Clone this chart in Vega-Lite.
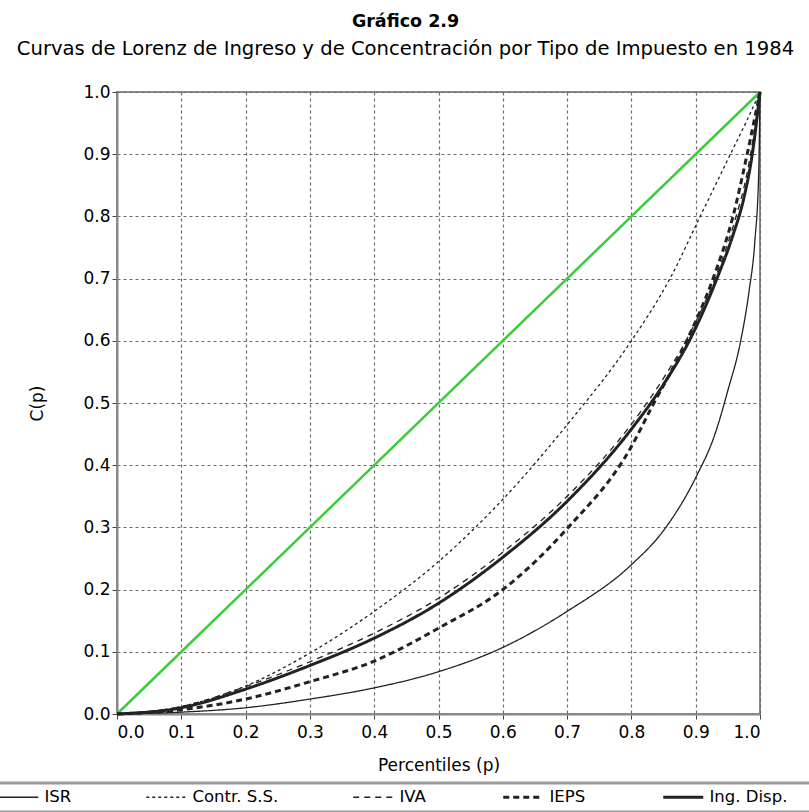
{
  "$schema": "https://vega.github.io/schema/vega-lite/v6.json",
  "width": 643,
  "height": 622,
  "autosize": {"type": "none"},
  "padding": {"left": 117, "top": 92, "right": 49, "bottom": 98},
  "background": "white",
  "title": {
    "text": "Gráfico 2.9",
    "subtitle": "Curvas de Lorenz de Ingreso y de Concentración por Tipo de Impuesto en 1984",
    "anchor": "middle",
    "dx": -33,
    "offset": 24,
    "font": "DejaVu Sans",
    "fontSize": 17.5,
    "fontWeight": "bold",
    "color": "black",
    "subtitleFont": "DejaVu Sans",
    "subtitleFontSize": 19.6,
    "subtitleColor": "black",
    "subtitlePadding": 10
  },
  "config": {
    "view": {"stroke": "#8a8a8a", "strokeWidth": 2},
    "axis": {
      "labelFont": "DejaVu Sans",
      "labelFontSize": 17,
      "labelColor": "black",
      "titleFont": "DejaVu Sans",
      "titleFontSize": 17,
      "titleFontWeight": "normal",
      "titleColor": "black",
      "gridColor": "#6a6a6a",
      "gridDash": [3, 3],
      "gridWidth": 1.2,
      "gridOpacity": 1,
      "domainColor": "#8a8a8a",
      "domainWidth": 2,
      "tickColor": "#444",
      "tickSize": 5
    },
    "legend": {
      "symbolStrokeColor": "#222",
      "labelFont": "DejaVu Sans",
      "labelFontSize": 16.5,
      "labelColor": "black"
    }
  },
  "datasets": {
    "curves": [
      {"serie": "ISR", "p": 0, "c": 0},
      {"serie": "ISR", "p": 0.1, "c": 0.003},
      {"serie": "ISR", "p": 0.2, "c": 0.01},
      {"serie": "ISR", "p": 0.3, "c": 0.024},
      {"serie": "ISR", "p": 0.4, "c": 0.042},
      {"serie": "ISR", "p": 0.5, "c": 0.068},
      {"serie": "ISR", "p": 0.6, "c": 0.107},
      {"serie": "ISR", "p": 0.7, "c": 0.165},
      {"serie": "ISR", "p": 0.8, "c": 0.24},
      {"serie": "ISR", "p": 0.85, "c": 0.295},
      {"serie": "ISR", "p": 0.9, "c": 0.38},
      {"serie": "ISR", "p": 0.93, "c": 0.45},
      {"serie": "ISR", "p": 0.95, "c": 0.52},
      {"serie": "ISR", "p": 0.97, "c": 0.6},
      {"serie": "ISR", "p": 0.983, "c": 0.68},
      {"serie": "ISR", "p": 0.992, "c": 0.76},
      {"serie": "ISR", "p": 0.998, "c": 0.87},
      {"serie": "ISR", "p": 1, "c": 1},
      {"serie": "Contr. S.S.", "p": 0, "c": 0},
      {"serie": "Contr. S.S.", "p": 0.1, "c": 0.012},
      {"serie": "Contr. S.S.", "p": 0.2, "c": 0.045},
      {"serie": "Contr. S.S.", "p": 0.3, "c": 0.098},
      {"serie": "Contr. S.S.", "p": 0.4, "c": 0.165},
      {"serie": "Contr. S.S.", "p": 0.5, "c": 0.245},
      {"serie": "Contr. S.S.", "p": 0.6, "c": 0.345},
      {"serie": "Contr. S.S.", "p": 0.7, "c": 0.465},
      {"serie": "Contr. S.S.", "p": 0.8, "c": 0.6},
      {"serie": "Contr. S.S.", "p": 0.86, "c": 0.7},
      {"serie": "Contr. S.S.", "p": 0.907, "c": 0.8},
      {"serie": "Contr. S.S.", "p": 0.954, "c": 0.9},
      {"serie": "Contr. S.S.", "p": 0.98, "c": 0.955},
      {"serie": "Contr. S.S.", "p": 1, "c": 1},
      {"serie": "IVA", "p": 0, "c": 0},
      {"serie": "IVA", "p": 0.1, "c": 0.012},
      {"serie": "IVA", "p": 0.2, "c": 0.044},
      {"serie": "IVA", "p": 0.3, "c": 0.084},
      {"serie": "IVA", "p": 0.4, "c": 0.13},
      {"serie": "IVA", "p": 0.5, "c": 0.186},
      {"serie": "IVA", "p": 0.6, "c": 0.26},
      {"serie": "IVA", "p": 0.7, "c": 0.35},
      {"serie": "IVA", "p": 0.8, "c": 0.466},
      {"serie": "IVA", "p": 0.85, "c": 0.54},
      {"serie": "IVA", "p": 0.89, "c": 0.61},
      {"serie": "IVA", "p": 0.93, "c": 0.7},
      {"serie": "IVA", "p": 0.96, "c": 0.79},
      {"serie": "IVA", "p": 0.98, "c": 0.87},
      {"serie": "IVA", "p": 1, "c": 1},
      {"serie": "IEPS", "p": 0, "c": 0},
      {"serie": "IEPS", "p": 0.1, "c": 0.007},
      {"serie": "IEPS", "p": 0.2, "c": 0.024},
      {"serie": "IEPS", "p": 0.3, "c": 0.052},
      {"serie": "IEPS", "p": 0.4, "c": 0.085},
      {"serie": "IEPS", "p": 0.5, "c": 0.138},
      {"serie": "IEPS", "p": 0.6, "c": 0.2},
      {"serie": "IEPS", "p": 0.7, "c": 0.298},
      {"serie": "IEPS", "p": 0.8, "c": 0.43},
      {"serie": "IEPS", "p": 0.83, "c": 0.49},
      {"serie": "IEPS", "p": 0.886, "c": 0.6},
      {"serie": "IEPS", "p": 0.927, "c": 0.7},
      {"serie": "IEPS", "p": 0.958, "c": 0.8},
      {"serie": "IEPS", "p": 0.98, "c": 0.9},
      {"serie": "IEPS", "p": 1, "c": 1},
      {"serie": "Ing. Disp.", "p": 0, "c": 0},
      {"serie": "Ing. Disp.", "p": 0.1, "c": 0.01},
      {"serie": "Ing. Disp.", "p": 0.2, "c": 0.04},
      {"serie": "Ing. Disp.", "p": 0.3, "c": 0.078},
      {"serie": "Ing. Disp.", "p": 0.4, "c": 0.122},
      {"serie": "Ing. Disp.", "p": 0.5, "c": 0.178},
      {"serie": "Ing. Disp.", "p": 0.6, "c": 0.252},
      {"serie": "Ing. Disp.", "p": 0.7, "c": 0.342},
      {"serie": "Ing. Disp.", "p": 0.8, "c": 0.458},
      {"serie": "Ing. Disp.", "p": 0.85, "c": 0.53},
      {"serie": "Ing. Disp.", "p": 0.89, "c": 0.6},
      {"serie": "Ing. Disp.", "p": 0.933, "c": 0.7},
      {"serie": "Ing. Disp.", "p": 0.958, "c": 0.77},
      {"serie": "Ing. Disp.", "p": 0.975, "c": 0.83},
      {"serie": "Ing. Disp.", "p": 0.988, "c": 0.9},
      {"serie": "Ing. Disp.", "p": 1, "c": 1}
    ],
    "diagonal": [
      {"p": 0, "c": 0},
      {"p": 1, "c": 1}
    ]
  },
  "layer": [
    {
      "data": {"name": "diagonal"},
      "mark": {"type": "line", "color": "#3ccc3c", "strokeWidth": 2.5},
      "encoding": {
        "x": {
          "field": "p", "type": "quantitative",
          "scale": {"domain": [0, 1], "nice": false},
          "axis": {
            "title": "Percentiles (p)",
            "values": [0, 0.1, 0.2, 0.3, 0.4, 0.5, 0.6, 0.7, 0.8, 0.9, 1],
            "format": ".1f",
            "labelPadding": 5,
            "titlePadding": 17
          }
        },
        "y": {
          "field": "c", "type": "quantitative",
          "scale": {"domain": [0, 1], "nice": false},
          "axis": {
            "title": "C(p)",
            "values": [0, 0.1, 0.2, 0.3, 0.4, 0.5, 0.6, 0.7, 0.8, 0.9, 1],
            "format": ".1f",
            "labelPadding": 2,
            "titlePadding": 36
          }
        }
      }
    },
    {
      "data": {"name": "curves"},
      "transform": [{"filter": {"field": "serie", "oneOf": ["ISR", "Contr. S.S.", "IVA"]}}],
      "mark": {"type": "line", "color": "#222", "strokeWidth": 1.3, "interpolate": "monotone"},
      "encoding": {
        "x": {"field": "p", "type": "quantitative"},
        "y": {"field": "c", "type": "quantitative"},
        "detail": {"field": "serie", "type": "nominal"},
        "order": {"field": "p", "type": "quantitative"},
        "strokeDash": {
          "field": "serie", "type": "nominal",
          "scale": {
            "domain": ["ISR", "Contr. S.S.", "IVA", "IEPS", "Ing. Disp."],
            "range": [[1, 0], [3, 3], [6, 5], [6, 4], [1, 0]]
          },
          "legend": {
            "title": " ",
            "titleOrient": "right",
            "titlePadding": 80,
            "orient": "none",
            "direction": "horizontal",
            "columns": 5,
            "gridAlign": "none",
            "legendX": -123,
            "legendY": 691,
            "padding": 6,
            "strokeColor": "#9a9a9a",
            "symbolType": "M-1,0H3",
            "symbolSize": 400,
            "labelOffset": 28,
            "columnPadding": 71,
            "encode": {
              "legend": {"update": {"strokeWidth": {"value": 3}}},
              "symbols": {"update": {"strokeWidth": {"signal": "indexof(['IEPS','Ing. Disp.'], datum.value) >= 0 ? 3 : 1.3"}}}
            }
          }
        }
      }
    },
    {
      "data": {"name": "curves"},
      "transform": [{"filter": {"field": "serie", "oneOf": ["IEPS", "Ing. Disp."]}}],
      "mark": {"type": "line", "color": "#222", "strokeWidth": 3, "interpolate": "monotone"},
      "encoding": {
        "x": {"field": "p", "type": "quantitative"},
        "y": {"field": "c", "type": "quantitative"},
        "detail": {"field": "serie", "type": "nominal"},
        "order": {"field": "p", "type": "quantitative"},
        "strokeDash": {
          "field": "serie", "type": "nominal",
          "scale": {
            "domain": ["ISR", "Contr. S.S.", "IVA", "IEPS", "Ing. Disp."],
            "range": [[1, 0], [3, 3], [6, 5], [6, 4], [1, 0]]
          },
          "legend": {
            "title": " ",
            "titleOrient": "right",
            "titlePadding": 80,
            "orient": "none",
            "direction": "horizontal",
            "columns": 5,
            "gridAlign": "none",
            "legendX": -123,
            "legendY": 691,
            "padding": 6,
            "strokeColor": "#9a9a9a",
            "symbolType": "M-1,0H3",
            "symbolSize": 400,
            "labelOffset": 28,
            "columnPadding": 71,
            "encode": {
              "legend": {"update": {"strokeWidth": {"value": 3}}},
              "symbols": {"update": {"strokeWidth": {"signal": "indexof(['IEPS','Ing. Disp.'], datum.value) >= 0 ? 3 : 1.3"}}}
            }
          }
        }
      }
    }
  ]
}
